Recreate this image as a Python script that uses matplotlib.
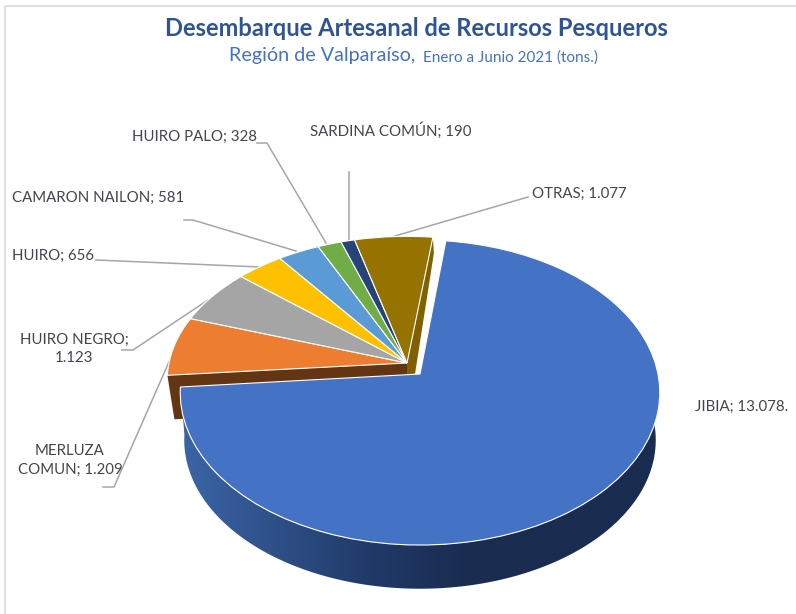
import numpy as np
import matplotlib
matplotlib.use("Agg")
import matplotlib.pyplot as plt
from matplotlib.colors import LinearSegmentedColormap
from matplotlib.patches import Polygon
from matplotlib.transforms import Transform

plt.rcParams['font.family'] = ['Lato', 'DejaVu Sans']

especies = ["JIBIA", "MERLUZA COMUN", "HUIRO NEGRO", "HUIRO", "CAMARON NAILON",
            "HUIRO PALO", "SARDINA COMÚN", "OTRAS"]
toneladas = [13078, 1209, 1123, 656, 581, 328, 190, 1077]
colores = ["#4472C4", "#ED7D31", "#A5A5A5", "#FFC000", "#5B9BD5", "#70AD47", "#264478", "#967200"]
etiquetas = ["JIBIA; 13.078.", "MERLUZA\nCOMUN; 1.209", "HUIRO NEGRO;\n1.123", "HUIRO; 656",
             "CAMARON NAILON; 581", "HUIRO PALO; 328", "SARDINA COMÚN; 190", "OTRAS; 1.077"]
# label anchor and leader line, in pixels
pos_etiqueta = [(695, 407), (70, 460), (74, 349), (53, 256), (98, 198), (194, 137), (391, 131), (579, 194)]
lineas = [None,
          [(103, 487), (114, 487), (172, 355)],
          [(122, 350), (133, 350), (208, 300)],
          [(96, 260), (260, 267)],
          [(184, 220), (193, 220), (296, 251)],
          [(257, 143), (267, 143), (326, 243)],
          [(349, 172), (349, 240)],
          [(528, 197), (395, 236)]]


# pie in 3D: unit circle -> pixels, with a bit of perspective
class Persp(Transform):
    input_dims = 2
    output_dims = 2
    is_separable = False
    has_inverse = False

    def __init__(self, cx, cy, rx, ry, k=0.1213):
        super().__init__()
        self.cx, self.cy, self.rx, self.ry, self.k = cx, cy, rx, ry, k

    def transform_non_affine(self, values):
        values = np.asarray(values, dtype=float)
        s = 1 / (1 + self.k * values[:, 1])
        return np.column_stack([self.cx + self.rx * values[:, 0] * s,
                                self.cy - self.ry * values[:, 1] * s])


def arco(t, a, b, n=200):
    ang = np.radians(np.linspace(a, b, n))
    return t.transform_non_affine(np.column_stack([np.cos(ang), np.sin(ang)]))


fig = plt.figure(figsize=(7.96, 6.14), dpi=100)
ax = fig.add_axes([0, 0, 1, 1])

resto = Persp(407, 363, 238, 142)
jibia = Persp(420, 374, 238, 150.3)
jibia_base = Persp(420, 422, 234, 146.5)

wedges, _ = ax.pie(toneladas, colors=colores, startangle=83, counterclock=False, frame=True,
                   wedgeprops=dict(edgecolor="white", linewidth=0.8))
for i, w in enumerate(wedges):
    w.set_transform((jibia if i == 0 else resto) + ax.transData)
    w.set_zorder(5 if i == 0 else 3)

# side of jibia with the gradient
t1, t2 = wedges[0].theta1, wedges[0].theta2
lado = np.vstack([arco(jibia, t1, 8), arco(jibia_base, 8, t1)])
clip = Polygon(lado, closed=True, transform=ax.transData, facecolor="none", edgecolor="none")
ax.add_patch(clip)
cmap = LinearSegmentedColormap.from_list("lado", ["#3C66A8", "#2E5088", "#203A68", "#1A2C50", "#1A2C50", "#1A2C50"])
img = ax.imshow(np.linspace(0, 1, 256).reshape(1, -1), cmap=cmap, aspect="auto",
                extent=(178, 660, 600, 370), zorder=2, interpolation="bilinear")
img.set_clip_path(clip)

# cut faces seen through the gap
borde = arco(resto, wedges[1].theta2, wedges[1].theta2, 1)[0]
ax.add_patch(Polygon([(407, 363), borde, borde + (7, 44), (412, 407)], closed=True,
                     facecolor="#633512", edgecolor="none", zorder=2.5))
borde = arco(resto, wedges[7].theta1, wedges[7].theta1, 1)[0]
ax.add_patch(Polygon([(407, 363), borde, borde + (1, 16), (415, 374), (407, 374)], closed=True,
                     facecolor="#806000", edgecolor="none", zorder=2.5))

for i, txt in enumerate(etiquetas):
    ha = "left" if i == 0 else "center"
    ax.text(pos_etiqueta[i][0], pos_etiqueta[i][1], txt, ha=ha, va="center", ma="center",
            fontsize=10.8, color="#444450", zorder=8, linespacing=1.45)
    if lineas[i] is not None:
        xs, ys = zip(*lineas[i])
        ax.plot(xs, ys, color="#A6A6A6", lw=1.1, zorder=1)

ax.text(416, 28, "Desembarque Artesanal de Recursos Pesqueros", ha="center", va="center",
        fontsize=17.1, fontweight="bold", color="#2F5496")
ax.text(229, 56, "Región de Valparaíso,", ha="left", va="center", fontsize=14.2, color="#4472C4")
ax.text(423, 58, "Enero a Junio 2021 (tons.)", ha="left", va="center", fontsize=11, color="#4472C4")

# chart frame, only top and left show
ax.plot([4.5, 4.5, 796], [614, 6, 6], color="#D9D9D9", lw=1.2, zorder=0)

ax.set_xlim(0, 796)
ax.set_ylim(614, 0)
ax.axis("off")
fig.savefig("out.png", dpi=100)
